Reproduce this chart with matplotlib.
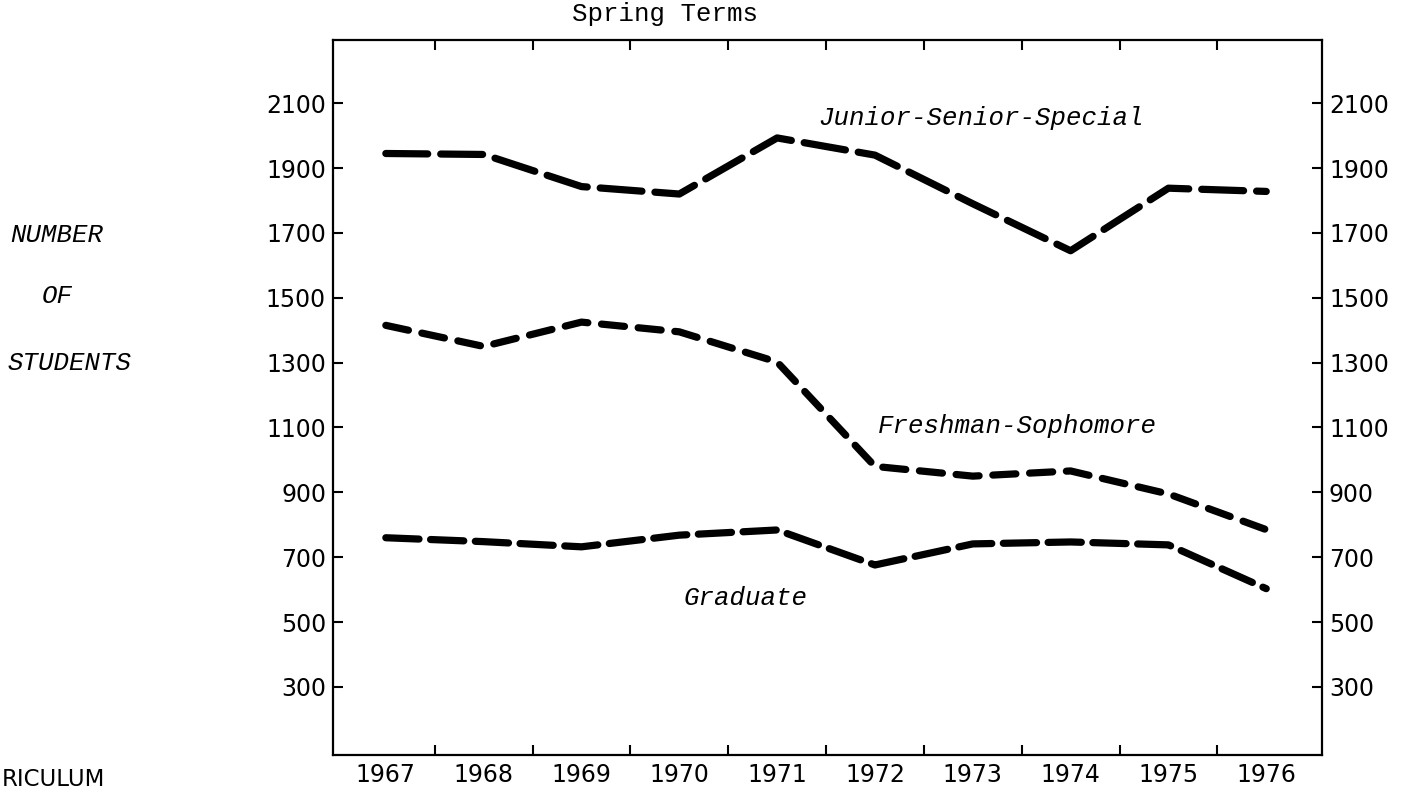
import matplotlib
matplotlib.use("Agg")
import matplotlib.pyplot as plt
import matplotlib.transforms as mtransforms

# ---- data ----
years = [1967, 1968, 1969, 1970, 1971, 1972, 1973, 1974, 1975, 1976]
junior_senior_special = [1945, 1942, 1843, 1820, 1993, 1940, 1790, 1645, 1838, 1828]
freshman_sophomore = [1415, 1350, 1425, 1395, 1302, 980, 950, 966, 895, 785]
graduate = [760, 748, 732, 768, 784, 676, 741, 747, 738, 603]
y_ticks = [300, 500, 700, 900, 1100, 1300, 1500, 1700, 1900, 2100]
year_labels = [str(y) for y in years]

W, H = 1403, 790
fig = plt.figure(figsize=(W / 100, H / 100), dpi=100)
ax = fig.add_axes([333 / W, 1 - 755 / H, (1322 - 333) / W, (755 - 40) / H])

lw = 5.2
ax.plot(years, junior_senior_special, color="black", lw=lw, dashes=(5.8, 1.8),
        dash_capstyle="round", solid_capstyle="round")
ax.plot(years, freshman_sophomore, color="black", lw=lw, dashes=(3.2, 1.9),
        dash_capstyle="round", solid_capstyle="round")
ax.plot(years, graduate, color="black", lw=lw, dashes=(4.6, 1.6),
        dash_capstyle="round", solid_capstyle="round")

ax.set_xlim(1966.46, 1976.57)
ax.set_ylim(90, 2295)

# x: labels at year centres, tick marks at boundaries between years
ax.set_xticks(years)
ax.set_xticklabels(year_labels)
ax.set_xticks([y + 0.5 for y in years[:-1]], minor=True)
ax.tick_params(axis="x", which="major", length=0, pad=6, labelsize=17)
ax.tick_params(axis="x", which="minor", direction="in", length=7, width=1.5,
               top=True, bottom=True)

ax.set_yticks(y_ticks)
ax.tick_params(axis="y", which="major", direction="in", length=7, width=1.5,
               left=True, right=True, labelleft=True, labelright=True,
               labelsize=17, pad=5)

for sp in ax.spines.values():
    sp.set_linewidth(1.6)

mono = "Liberation Mono"
fs_txt = 18.5
ax.text(1973.08, 2054, "Junior-Senior-Special", family=mono, style="italic",
        fontsize=fs_txt, ha="center", va="center")
ax.text(1973.46, 1105, "Freshman-Sophomore", family=mono, style="italic",
        fontsize=fs_txt, ha="center", va="center")
ax.text(1970.68, 575, "Graduate", family=mono, style="italic",
        fontsize=fs_txt, ha="center", va="center")

trans = mtransforms.blended_transform_factory(ax.transData, ax.transAxes)
ax.text(1969.85, 1.036, "Spring Terms", family=mono, fontsize=fs_txt,
        ha="center", va="center", transform=trans)

fig.text(10 / W, 1 - 235 / H, "NUMBER", family=mono, style="italic",
         fontsize=fs_txt, ha="left", va="center")
fig.text(57 / W, 1 - 296 / H, "OF", family=mono, style="italic",
         fontsize=fs_txt, ha="center", va="center")
fig.text(8 / W, 1 - 363 / H, "STUDENTS", family=mono, style="italic",
         fontsize=fs_txt, ha="left", va="center")

fig.text(2 / W, 1 - 779 / H, "RICULUM", fontsize=16.5, ha="left", va="center")

fig.savefig("out.png", dpi=100)
